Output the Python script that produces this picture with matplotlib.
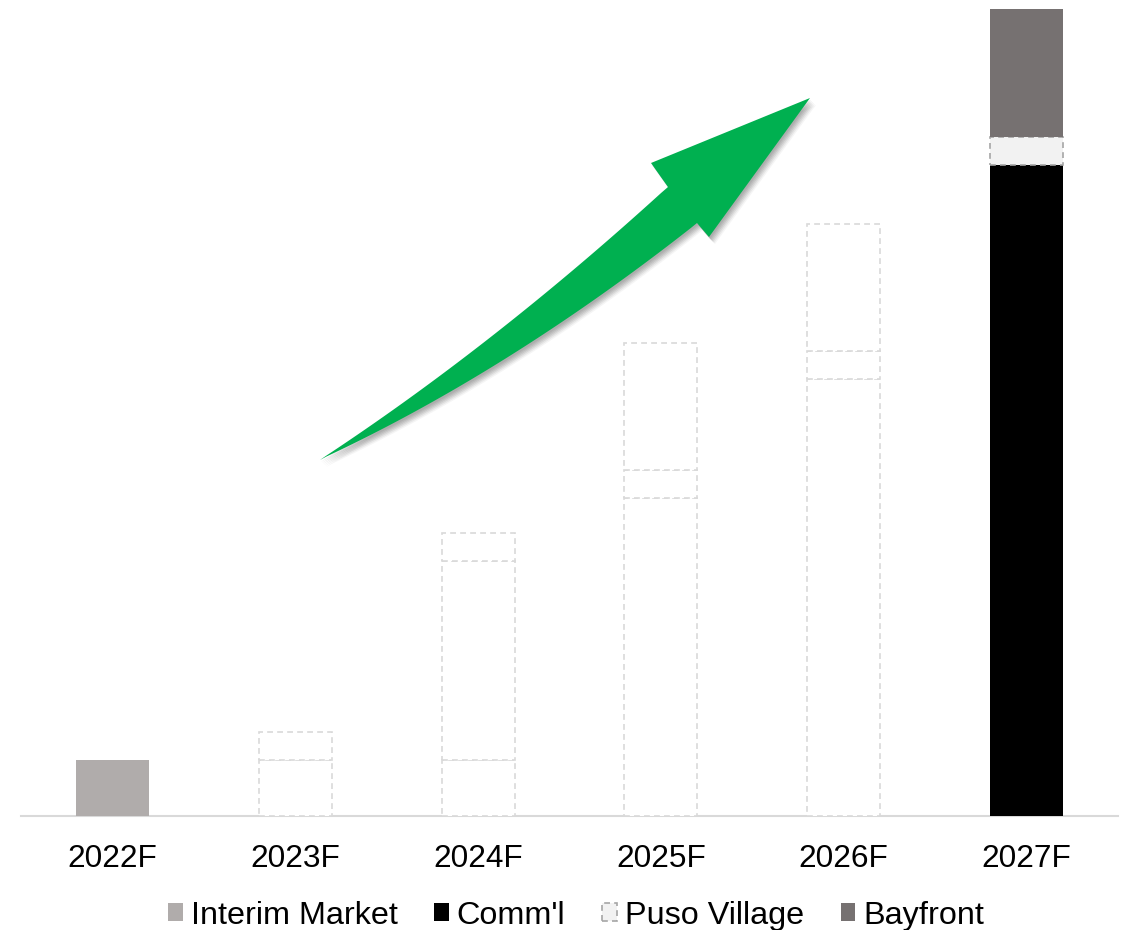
import numpy as np
import matplotlib
matplotlib.use("Agg")
import matplotlib.pyplot as plt
from matplotlib.patches import Polygon, Patch

plt.rcParams['font.family'] = ['Liberation Sans', 'DejaVu Sans']

# ---- data ----
years = ["2022F", "2023F", "2024F", "2025F", "2026F", "2027F"]
interim = [2.0, 2.0, 2.0, 0.0, 0.0, 0.0]
comml = [0.0, 0.0, 7.1, 11.35, 15.6, 23.25]
puso = [0.0, 1.0, 1.0, 1.0, 1.0, 1.0]
bayfront = [0.0, 0.0, 0.0, 4.55, 4.55, 4.57]
solid = [True, False, False, False, False, True]   # False -> dashed "ghost" bar
series_names = ["Interim Market", "Comm'l", "Puso Village", "Bayfront"]

# ---- styles ----
W, H = 1122, 930
GHOST_EDGE = "#d9d9d9"
DASH = (0, (3.5, 2.5))
styles = [
    dict(facecolor="#b0acab", edgecolor="none", linewidth=0),
    dict(facecolor="black", edgecolor="none", linewidth=0),
    dict(facecolor="#f2f2f2", edgecolor="#a6a6a6", linewidth=1.2, linestyle=DASH),
    dict(facecolor="#767171", edgecolor="none", linewidth=0),
]
ghost = dict(facecolor="white", edgecolor=GHOST_EDGE, linewidth=1.2, linestyle=DASH)

fig = plt.figure(figsize=(W / 100, H / 100), dpi=100)
ax = fig.add_axes([21 / W, 1 - 816 / H, (1118 - 21) / W, (816 - 9) / H])

x = np.arange(len(years))
solid_arr = np.array(solid)
bottom = np.zeros(len(years))
width = 0.4
for name, vals, st in zip(series_names, [interim, comml, puso, bayfront], styles):
    v = np.array(vals)
    m_s = solid_arr & (v > 0)
    m_g = (~solid_arr) & (v > 0)
    if m_s.any():
        ax.bar(x[m_s], v[m_s], width, bottom=bottom[m_s], clip_on=False, zorder=3, **st)
    if m_g.any():
        ax.bar(x[m_g], v[m_g], width, bottom=bottom[m_g], clip_on=False, zorder=2, **ghost)
    bottom = bottom + v

ax.set_xlim(-0.5, len(years) - 0.5)
ax.set_ylim(0, bottom.max())
ax.set_xticks(x)
ax.set_xticklabels(years, fontsize=22.8)
ax.tick_params(axis='x', length=0, pad=20)
ax.set_yticks([])
for s in ["left", "right", "top"]:
    ax.spines[s].set_visible(False)
ax.spines["bottom"].set_color(GHOST_EDGE)
ax.spines["bottom"].set_linewidth(1.5)
ax.spines["bottom"].set_zorder(1)

# ---- legend ----
handles = [Patch(**st) for st in styles]
fig.legend(handles, series_names, loc="center", bbox_to_anchor=(0.5135, 0.0155),
           ncol=4, frameon=False, fontsize=23.3, handlelength=0.44, handleheight=0.44,
           handletextpad=0.25, columnspacing=1.14, borderpad=0, borderaxespad=0)

# ---- decorative green arrow (pixel geometry) ----
def px(pts):
    pts = np.asarray(pts, float)
    return np.column_stack([pts[:, 0] / W, 1 - pts[:, 1] / H])

up_pts = np.array([(320, 460), (410, 397), (510, 323), (607, 240), (667, 188)], float)
lo_pts = np.array([(697, 223), (640, 267), (583, 307), (510, 357), (410, 413), (320, 460)], float)
cu = np.polyfit(up_pts[:, 0], up_pts[:, 1], 2)
cl = np.polyfit(lo_pts[:, 0], lo_pts[:, 1], 2)
xu = np.linspace(320, 667, 60)
xl = np.linspace(697, 320, 60)
upper = np.column_stack([xu, np.polyval(cu, xu)])
lower = np.column_stack([xl, np.polyval(cl, xl)])
upper[0] = (320, 460); upper[-1] = (668, 187)
lower[0] = (697, 223); lower[-1] = (320, 460)
head = np.array([(651, 163), (810, 98), (709, 237)], float)
shape = np.vstack([upper, head, lower])

for dx, dy, a in [(1, 2, 0.10), (2, 3, 0.10), (3, 4, 0.10), (4, 5, 0.09), (5, 6, 0.07), (6, 7, 0.05)]:
    fig.patches.append(Polygon(px(shape + [dx, dy]), closed=True, transform=fig.transFigure,
                               facecolor="#404040", edgecolor="none", alpha=a, zorder=4))
fig.patches.append(Polygon(px(shape), closed=True, transform=fig.transFigure,
                           facecolor="#00b050", edgecolor="none", zorder=5))

fig.savefig("out.png", dpi=100, facecolor="white")
